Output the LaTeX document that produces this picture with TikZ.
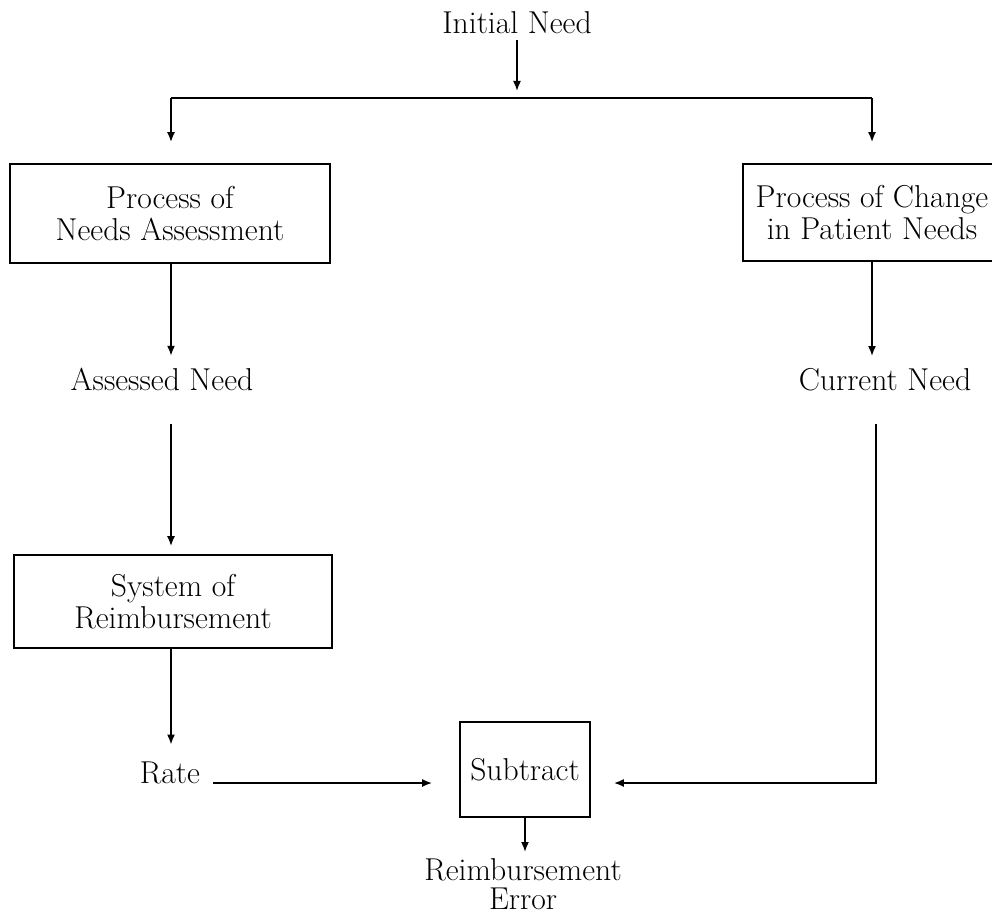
\documentclass[tikz,border=0pt]{standalone}
\usetikzlibrary{arrows.meta}

\tikzset{
  box/.style={draw, align=center, inner sep=0pt},
  txt/.style={align=center, inner sep=0pt}
}

\begin{document}
\begin{tikzpicture}[x=0.025cm, y=-0.025cm, line width=1.2pt,
  >={Latex[length=2.5mm,width=2mm]}, font=\fontsize{22.5}{23}\selectfont]
\useasboundingbox (0,0) rectangle (992,914);

\node[txt, anchor=base] (init) at (517,33) {Initial Need};
\coordinate (split) at (517,98);
\coordinate (splitL) at (171,98);
\coordinate (splitR) at (872,98);

\node[box, minimum width=8cm, minimum height=2.475cm] (assess) at (170,213.5) {Process of\\Needs Assessment};
\node[box, minimum width=6.45cm, minimum height=2.425cm] (change) at (872,212.5) {Process of Change\\in Patient Needs};
\node[txt, anchor=base] (assessed) at (162,390) {Assessed Need};
\node[txt, anchor=base] (current) at (885,390) {Current Need};
\node[box, minimum width=7.95cm, minimum height=2.325cm] (reimb) at (173,601.5) {System of\\Reimbursement};
\node[txt, anchor=base] (rate) at (170,783) {Rate};
\node[box, minimum width=3.25cm, minimum height=2.375cm] (sub) at (525,769.5) {Subtract};
\node[txt, anchor=north, font=\fontsize{22.5}{20.5}\selectfont] (err) at (523,858) {Reimbursement\\Error};
\coordinate (turn) at (876,783);

\draw[->, shorten <=0.175cm, shorten >=0.175cm] (init.base) -- (split);
\draw (splitL) -- (splitR);
\draw[->, shorten >=0.525cm] (splitL) -- (splitL |- assess.north);
\draw[->, shorten >=0.525cm] (splitR) -- (splitR |- change.north);
\draw[->, shorten >=0.275cm] (splitL |- assess.south) -- (splitL |- assessed.north);
\draw[->, shorten >=0.275cm] (splitR |- change.south) -- (splitR |- current.north);
\draw[->, shorten <=0.825cm, shorten >=0.2cm] (splitL |- assessed.south) -- (splitL |- reimb.north);
\draw[->, shorten >=0.4cm] (splitL |- reimb.south) -- (splitL |- rate.north);
\draw[->, shorten <=0.3cm, shorten >=0.675cm] (rate.base east) -- (sub.west |- rate.base east);
\draw[->, shorten <=0.825cm, shorten >=0.575cm] (turn |- current.south) -- (turn) -- (sub.east |- turn);
\draw[->, shorten >=0.15cm] (sub.south) -- (sub.south |- err.north);
\end{tikzpicture}
\end{document}
